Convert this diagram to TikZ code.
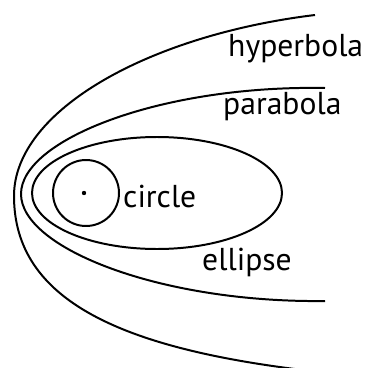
\documentclass[tikz,border=0pt]{standalone}
\usepackage{fontspec}
\setmainfont{PT Sans}

\begin{document}
\begin{tikzpicture}[
        x=0.03cm, y=-0.03cm,
        orbit/.style={draw, line width=1.7pt},
        curvetext/.style={anchor=base west, inner sep=0pt,
          font=\fontsize{27}{32}\selectfont}
      ]
      \useasboundingbox (0,0) rectangle (366,368);
      \clip (0,0) rectangle (366,368);

      \coordinate (h_top) at (315,15);
      \coordinate (h_vertex) at (14,196);
      \coordinate (h_bottom) at (320,372);
      \coordinate (p_top) at (325,88);
      \coordinate (p_vertex) at (21,194);
      \coordinate (p_bottom) at (325,301);

      \draw [orbit] (h_top) .. controls (150,35) and (14,110) .. (h_vertex)
        .. controls (14,300) and (120,350) .. (h_bottom);
      \draw [orbit] (p_top) .. controls (160,85) and (21,140) .. (p_vertex)
        .. controls (21,248) and (160,303) .. (p_bottom);

      \draw [orbit] (157,193) ellipse [x radius=125, y radius=56];
      \draw [orbit] (86,193) circle [radius=33];
      \fill (84,193) circle [radius=2.2];

      \node [curvetext] (t_hyperbola) at (228,56) {hyperbola};
      \node [curvetext] (t_parabola) at (223,114) {parabola};
      \node [curvetext] (t_circle) at (123,207) {circle};
      \node [curvetext] (t_ellipse) at (202,270) {ellipse};

    \end{tikzpicture}
\end{document}
